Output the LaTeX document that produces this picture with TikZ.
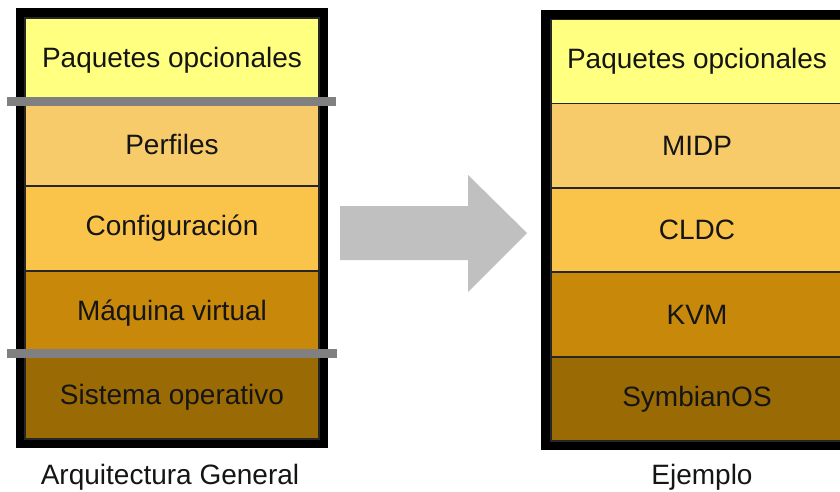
\documentclass[tikz,border=0pt]{standalone}
\usepackage{fontspec}
\setmainfont{Liberation Sans}
\definecolor{cpaq}{HTML}{FFFF80}
\definecolor{cperf}{HTML}{F8CB6A}
\definecolor{cconf}{HTML}{FAC34A}
\definecolor{cmaq}{HTML}{C8880A}
\definecolor{csis}{HTML}{9A6A04}
\definecolor{cbar}{HTML}{808080}
\definecolor{carrow}{HTML}{C0C0C0}
\definecolor{ctext}{HTML}{151515}
\begin{document}
\begin{tikzpicture}[x=1pt,y=-1pt,
  frame/.style={fill=black},
  layer/.style={draw=black!85, line width=1.2pt, minimum height=84pt, inner sep=0pt, text=ctext, font=\fontsize{28}{30}\selectfont},
  leftlayer/.style={layer, minimum width=294pt},
  rightlayer/.style={layer, minimum width=292pt},
  bar/.style={draw=cbar, line width=9pt},
  caption/.style={font=\fontsize{28}{30}\selectfont, text=ctext}]
\clip (0,0) rectangle (840,492);
\useasboundingbox (0,0) rectangle (840,492);
\fill[white] (0,0) rectangle (840,492);
% left stack
\fill[frame] (16,8) rectangle (328,448);
\node[leftlayer, fill=cpaq]  (lpaq)  at (172,60)    {Paquetes opcionales};
\node[leftlayer, fill=cperf] (lperf) at (172,144)   {Perfiles};
\node[leftlayer, fill=cconf] (lconf) at (172,228.5) {Configuración};
\node[leftlayer, fill=cmaq]  (lmaq)  at (172,313)   {Máquina virtual};
\node[leftlayer, fill=csis]  (lsis)  at (172,397)   {Sistema operativo};
\draw[bar] (7,101.5) -- (336,101.5);
\draw[bar] (7,353.5) -- (337,353.5);
\node[caption] (lcap) at (170,477) {Arquitectura General};
% arrow
\fill[carrow] (340,206) -- (468,206) -- (468,175) -- (527,233) -- (468,292) -- (468,260) -- (340,260) -- cycle;
% right stack
\fill[frame] (541,10) rectangle (853,450);
\node[rightlayer, fill=cpaq]  (rpaq)  at (697,61.5)  {Paquetes opcionales};
\node[rightlayer, fill=cperf] (rmidp) at (697,145.5) {MIDP};
\node[rightlayer, fill=cconf] (rcldc) at (697,230)   {CLDC};
\node[rightlayer, fill=cmaq]  (rkvm)  at (697,314.5) {KVM};
\node[rightlayer, fill=csis]  (rsym)  at (697,399)   {SymbianOS};
\node[caption] (rcap) at (702,477) {Ejemplo};
\end{tikzpicture}
\end{document}
